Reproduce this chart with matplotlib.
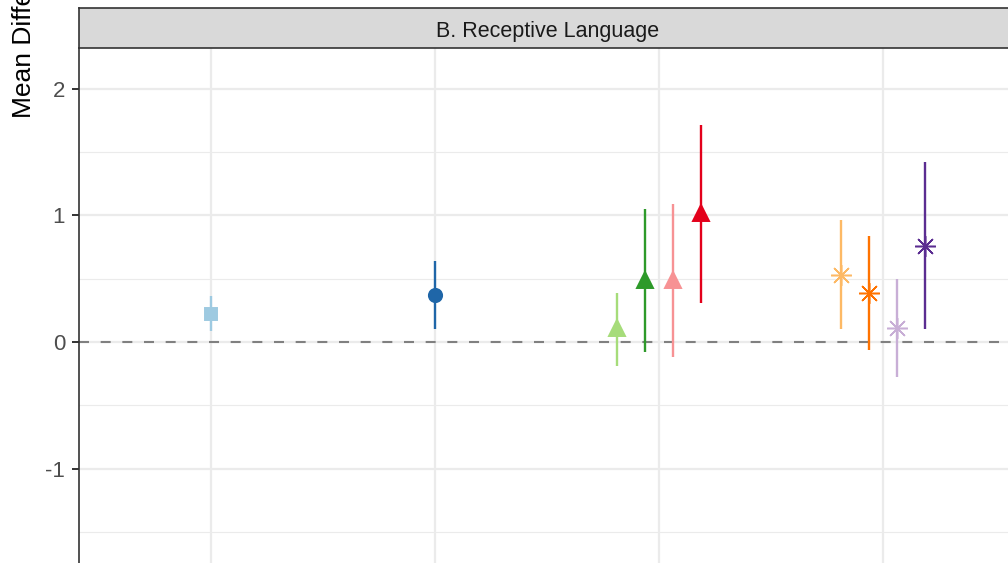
import matplotlib
matplotlib.use('Agg')
import matplotlib.pyplot as plt

plt.rcParams['font.family'] = ['Liberation Sans', 'DejaVu Sans']

# Estimates per group (x category, dodge offset)
categories = [1, 2, 3, 4]
point_x = [1.0, 2.0, 2.8125, 2.9375, 3.0625, 3.1875, 3.8125, 3.9375, 4.0625, 4.1875]
means = [0.22, 0.37, 0.11, 0.49, 0.49, 1.02, 0.53, 0.39, 0.11, 0.76]
ci_low = [0.09, 0.10, -0.19, -0.08, -0.12, 0.31, 0.10, -0.06, -0.28, 0.10]
ci_high = [0.36, 0.64, 0.39, 1.05, 1.09, 1.71, 0.96, 0.84, 0.50, 1.42]
colors = ['#9ecae1', '#1f66a8', '#a6dc7a', '#2e9a2a', '#f79294', '#e3001b',
          '#fdb965', '#ff7300', '#c8aed6', '#5b2d91']
markers = ['s', 'o', '^', '^', '^', '^', (8, 2, 0), (8, 2, 0), (8, 2, 0), (8, 2, 0)]
sizes = [9, 9.5, 11, 11, 11, 11, 15, 15, 15, 15]
edge_w = [1.4, 1.4, 1.4, 1.4, 1.4, 1.4, 1.1, 1.1, 1.1, 1.1]

fig = plt.figure(figsize=(10.08, 5.63), dpi=100)
W, H = 1008, 563

ax = fig.add_axes([79 / W, 0, 1 - 79 / W, (563 - 48) / H])
ax.set_xlim(0.411, 4.558)
ax.set_ylim(-1.744, 2.320)

ax.set_xticks(categories)
ax.set_yticks([-1, 0, 1, 2])
ax.set_yticks([-1.5, -0.5, 0.5, 1.5], minor=True)
ax.set_yticklabels(['-1', '0', '1', '2'], fontsize=16, color='#4d4d4d')
ax.tick_params(axis='y', which='major', length=5, width=1.4, color='#333333', pad=5)
ax.tick_params(axis='y', which='minor', length=0)
ax.tick_params(axis='x', bottom=False, labelbottom=False)

ax.grid(True, which='major', axis='both', color='#ebebeb', linewidth=1.6, zorder=0)
ax.grid(True, which='minor', axis='y', color='#ebebeb', linewidth=0.8, zorder=0)
ax.set_axisbelow(True)

for s in ['right', 'bottom', 'top']:
    ax.spines[s].set_visible(False)
ax.spines['left'].set_color('#333333')
ax.spines['left'].set_linewidth(1.2)

ax.axhline(0, color='#808080', linewidth=1.5, dashes=(4.8, 5.6), zorder=1)

for i in range(len(means)):
    ax.vlines(point_x[i], ci_low[i], ci_high[i], color=colors[i], linewidth=1.7, zorder=2)
    ax.plot(point_x[i], means[i], marker=markers[i], color=colors[i],
            markersize=sizes[i], markeredgewidth=edge_w[i], linestyle='none', zorder=3)

# facet strip
strip = fig.add_axes([79 / W, (563 - 48) / H, 1 - 79 / W, 40 / H])
strip.set_facecolor('#d9d9d9')
strip.set_xticks([])
strip.set_yticks([])
strip.spines['right'].set_visible(False)
for s in ['left', 'top', 'bottom']:
    strip.spines[s].set_color('#333333')
    strip.spines[s].set_linewidth(1.2)
fig.text(548 / W, (563 - 31.5) / H, 'B. Receptive Language', ha='center', va='center',
         fontsize=15.5, color='#1a1a1a')

fig.text(24 / W, (563 - 118) / H, 'Mean Difference', rotation=90, ha='center',
         va='bottom', fontsize=19, color='black')

fig.savefig('out.png', dpi=100)
